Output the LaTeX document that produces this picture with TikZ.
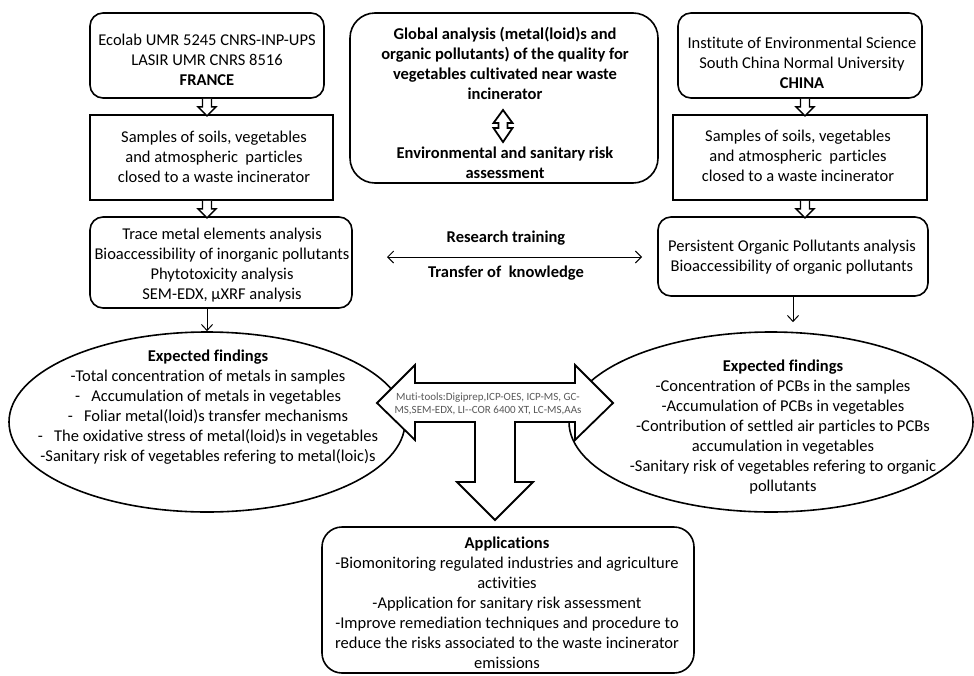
\documentclass[tikz,border=0pt]{standalone}
\usepackage{fontspec}
\setmainfont{Carlito}[Ligatures=NoCommon]
\usetikzlibrary{arrows.meta,calc,shapes.geometric}
\tikzset{
  box/.style={draw, line width=1.6pt, inner sep=0pt},
  rbox/.style={box, rounded corners=13pt},
  txt/.style={align=center, inner sep=0pt, font=\fontsize{16.5}{20}\selectfont},
  btxt/.style={txt, font=\fontsize{16.5}{20}\selectfont\bfseries},
  hollow/.style={draw, line width=1.4pt, fill=white, line join=miter},
  thinarrow/.style={line width=1pt, -{Straight Barb[length=6pt,width=11pt]}},
  ell/.style={draw, ellipse, line width=1.6pt, inner sep=0pt},
  hdown/.pic={\draw[hollow] (-4.5,0) -- (-4.5,8) -- (-9,8) -- (0,17) -- (9,8) -- (4.5,8) -- (4.5,0);},
  hupdown/.pic={\draw[hollow, line width=1.8pt] (0,0) -- (9.5,13) -- (4.5,13) -- (4.5,18) -- (9.5,18) -- (0,32) -- (-9.5,18) -- (-4.5,18) -- (-4.5,13) -- (-9.5,13) -- cycle;}
}
\begin{document}
\begin{tikzpicture}[x=1pt,y=-1pt]
\useasboundingbox (0,0) rectangle (974,675);

% boxes
\node[rbox, minimum width=234pt, minimum height=85pt] (A) at (207,55.5) {};
\node[box,  minimum width=243pt, minimum height=85pt] (B) at (211.5,157.5) {};
\node[rbox, minimum width=262pt, minimum height=91pt] (C) at (221,262.5) {};
\node[rbox, rounded corners=25pt, minimum width=308pt, minimum height=170pt] (D) at (504,98) {};
\node[rbox, minimum width=244pt, minimum height=85pt] (E) at (800,55.5) {};
\node[box,  minimum width=254pt, minimum height=85pt] (F) at (800,157.5) {};
\node[rbox, minimum width=270pt, minimum height=79pt] (G) at (793,256.5) {};
\node[rbox, rounded corners=20pt, minimum width=372pt, minimum height=146pt] (H) at (508,600) {};

% ellipses
\node[ell, minimum width=396pt, minimum height=180pt] (L) at (207,422) {};
\node[ell, minimum width=404pt, minimum height=180pt] (R) at (771,422) {};

% hollow arrows between boxes
\pic at (A.south) {hdown};
\pic at (B.south -| A.south) {hdown};
\pic at ($(E.south)+(5,0)$) {hdown};
\pic at ($(F.south)+(5,0)$) {hdown};
\pic at (503,110) {hupdown};

% thin arrows
\draw[thinarrow] (C.south -| L.north) -- (L.north);
\draw[thinarrow, shorten >=9pt] (G.south) -- (G.south |- R.north);

% research training arrow
\coordinate (rtL) at (387,257);
\coordinate (rtR) at (642,257);
\draw[line width=0.9pt, {Straight Barb[length=6pt,width=12pt]}-{Straight Barb[length=6pt,width=12pt]}] (rtL) -- (rtR);
\node[btxt] (rt1) at (506,238) {Research training};
\node[btxt] (rt2) at (506,273) {Transfer of~ knowledge};

% big three-way hollow arrow
\draw[hollow, line width=1.8pt] (377,403) -- (415,365) -- (415,383) -- (575,383) -- (575,365) -- (613,403)
  -- (575,440) -- (575,422) -- (515,422) -- (515,482) -- (533,482) -- (495,520) -- (457,482)
  -- (475,482) -- (475,422) -- (415,422) -- (415,440) -- cycle;
\node[align=center, inner sep=0pt, text=black!65, font=\fontsize{11}{13}\selectfont] (tools) at (488,404)
  {Muti-tools:Digiprep,ICP-OES, ICP-MS, GC-\\MS,SEM-EDX, LI-{}-COR 6400 XT, LC-MS,AAs};

% texts
\node[txt] (tA) at (207,60) {Ecolab UMR 5245 CNRS-INP-UPS\\LASIR UMR CNRS 8516\\\textbf{FRANCE}};
\node[txt] (tB) at (214,157) {Samples of soils, vegetables\\and atmospheric~ particles\\closed to a waste incinerator};
\node[txt] (tC) at (222,265) {Trace metal elements analysis\\Bioaccessibility of inorganic pollutants\\Phytotoxicity analysis\\SEM-EDX, µXRF analysis};
\node[btxt] (tD) at (505,63) {Global analysis (metal(loid)s and\\organic pollutants) of the quality for\\vegetables cultivated near waste\\incinerator};
\node[btxt] (tD2) at (505,163) {Environmental and sanitary risk\\assessment};
\node[txt] (tE) at (802,63) {Institute of Environmental Science\\South China Normal University\\\textbf{CHINA}};
\node[txt] (tF) at (798,156) {Samples of soils, vegetables\\and atmospheric~ particles\\closed to a waste incinerator};
\node[txt] (tG) at (792,257) {Persistent Organic Pollutants analysis\\Bioaccessibility of organic pollutants};
\node[txt] (tL) at (208,407) {\textbf{Expected findings}\\-Total concentration of metals in samples\\-~~~Accumulation of metals in vegetables\\-~~~Foliar metal(loid)s transfer mechanisms\\-~~~The oxidative stress of metal(loid)s in vegetables\\-Sanitary risk of vegetables refering to metal(loic)s};
\node[txt] (tR) at (783,427) {\textbf{Expected findings}\\-Concentration of PCBs in the samples\\-Accumulation of PCBs in vegetables\\-Contribution of settled air particles to PCBs\\accumulation in vegetables\\-Sanitary risk of vegetables refering to organic\\pollutants};
\node[txt] (tH) at (507,603) {\textbf{Applications}\\-Biomonitoring regulated industries and agriculture\\activities\\-Application for sanitary risk assessment\\-Improve remediation techniques and procedure to\\reduce the risks associated to the waste incinerator\\emissions};
\end{tikzpicture}
\end{document}
